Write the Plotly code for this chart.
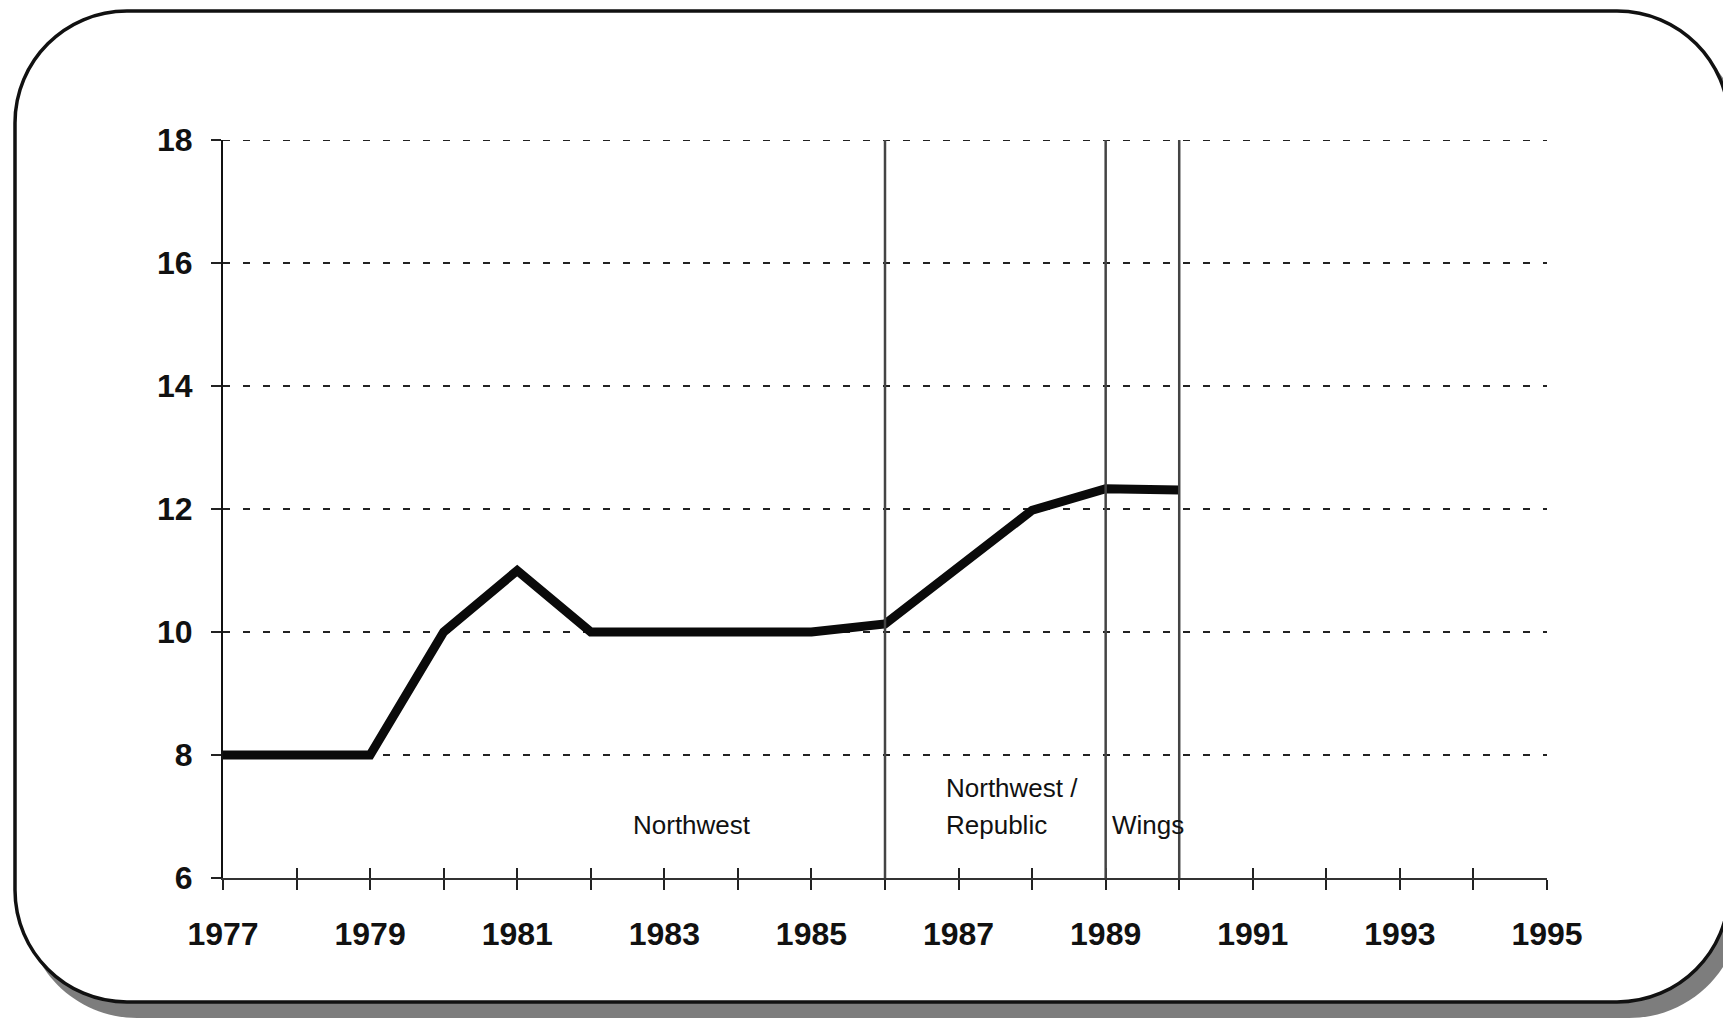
import plotly.graph_objects as go

# ---------------- data ----------------
years = [1977, 1978, 1979, 1980, 1981, 1982, 1983, 1984, 1985, 1986, 1987, 1988, 1989, 1990]
values = [8.0, 8.0, 8.0, 10.0, 11.0, 10.0, 10.0, 10.0, 10.0, 10.13, 11.05, 11.98, 12.33, 12.31]

tick_years = list(range(1977, 1996))
tick_labels = [str(y) if (y - 1977) % 2 == 0 else "" for y in tick_years]
y_ticks = [6, 8, 10, 12, 14, 16, 18]

boundary_years = [1986, 1989, 1990]

region_labels = ["Northwest", "Northwest /", "Republic", "Wings"]
region_label_x = [1982.55, 1986.80, 1986.80, 1989.06]
region_label_y = [6.86, 7.47, 6.86, 6.86]

# ---------------- geometry (pixels, figure coordinates; page has 8px body margin) ----------------
OFF = 8
W_FIG, H_FIG = 1731, 1018
L, R_PX, T_PX, B_PX = 223 - OFF, 1547 - OFF, 140 - OFF, 878 - OFF
PW, PH = R_PX - L, B_PX - T_PX


def to_paper(px, py):
    return (px - L) / PW, (B_PX - py) / PH


def rounded_path(x0, y0, x1, y1, r):
    k = 0.5523 * r

    def P(px, py):
        a, b = to_paper(px - OFF, py - OFF)
        return f"{a:.5f},{b:.5f}"

    s = "M " + P(x0 + r, y0)
    s += " L " + P(x1 - r, y0)
    s += " C " + P(x1 - r + k, y0) + " " + P(x1, y0 + r - k) + " " + P(x1, y0 + r)
    s += " L " + P(x1, y1 - r)
    s += " C " + P(x1, y1 - r + k) + " " + P(x1 - r + k, y1) + " " + P(x1 - r, y1)
    s += " L " + P(x0 + r, y1)
    s += " C " + P(x0 + r - k, y1) + " " + P(x0, y1 - r + k) + " " + P(x0, y1 - r)
    s += " L " + P(x0, y0 + r)
    s += " C " + P(x0, y0 + r - k) + " " + P(x0 + r - k, y0) + " " + P(x0 + r, y0)
    s += " Z"
    return s


fig = go.Figure()

fig.add_trace(go.Scatter(
    x=years, y=values, mode="lines",
    line=dict(color="#0a0a0a", width=9),
    hoverinfo="skip", showlegend=False,
))
# helper trace for the inward tick axis
fig.add_trace(go.Scatter(
    x=years, y=values, mode="lines", xaxis="x2",
    line=dict(color="rgba(0,0,0,0)", width=0),
    hoverinfo="skip", showlegend=False,
))

shapes = []
# shadow
shapes.append(dict(type="path", xref="paper", yref="paper", layer="below",
                   path=rounded_path(25, 27, 1741, 1018, 112),
                   fillcolor="#7d7d7d", line=dict(width=0)))
# frame
shapes.append(dict(type="path", xref="paper", yref="paper", layer="below",
                   path=rounded_path(15, 11, 1729, 1002, 112),
                   fillcolor="white", line=dict(color="#111111", width=3.5)))
# top gridline (at the edge of the range)
shapes.append(dict(type="line", xref="paper", yref="y", x0=0, x1=1, y0=max(y_ticks), y1=max(y_ticks),
                   layer="below", line=dict(color="#222222", width=2, dash="7px,13px")))
for by in boundary_years:
    shapes.append(dict(type="line", xref="x", yref="paper", x0=by, x1=by, y0=0, y1=1,
                       layer="above", line=dict(color="#444444", width=2.5)))

annotations = []
for txt, ax, ay in zip(region_labels, region_label_x, region_label_y):
    annotations.append(dict(x=ax, y=ay, xref="x", yref="y", text=txt, showarrow=False,
                            xanchor="left", yanchor="middle",
                            font=dict(family="Liberation Sans, Arial, sans-serif", size=26, color="#111111")))

fig.update_layout(
    width=W_FIG, height=H_FIG, autosize=False,
    margin=dict(l=L, r=W_FIG - R_PX, t=T_PX, b=H_FIG - B_PX, pad=0),
    paper_bgcolor="white", plot_bgcolor="rgba(0,0,0,0)",
    showlegend=False,
    shapes=shapes, annotations=annotations,
    xaxis=dict(
        range=[1977, 1995], tickvals=tick_years, ticktext=tick_labels,
        ticks="outside", ticklen=10, tickwidth=2, tickcolor="#222222",
        showline=True, linecolor="#333333", linewidth=1.5,
        showgrid=False, zeroline=False,
        tickfont=dict(family="Liberation Sans, Arial, sans-serif", size=32, color="#111111", weight="bold"),
        ticklabelstandoff=17,
    ),
    xaxis2=dict(
        range=[1977, 1995], overlaying="x", anchor="y", side="bottom",
        tickvals=tick_years, showticklabels=False,
        ticks="inside", ticklen=10, tickwidth=2, tickcolor="#222222",
        showline=False, showgrid=False, zeroline=False,
    ),
    yaxis=dict(
        range=[6, 18], tickvals=y_ticks,
        ticks="outside", ticklen=10, tickwidth=2, tickcolor="#222222",
        showline=True, linecolor="#111111", linewidth=2,
        showgrid=True, gridcolor="#222222", gridwidth=2, griddash="7px,13px",
        zeroline=False,
        tickfont=dict(family="Liberation Sans, Arial, sans-serif", size=32, color="#111111", weight="bold"),
        ticklabelstandoff=12,
    ),
)

fig.write_html("out.html")
